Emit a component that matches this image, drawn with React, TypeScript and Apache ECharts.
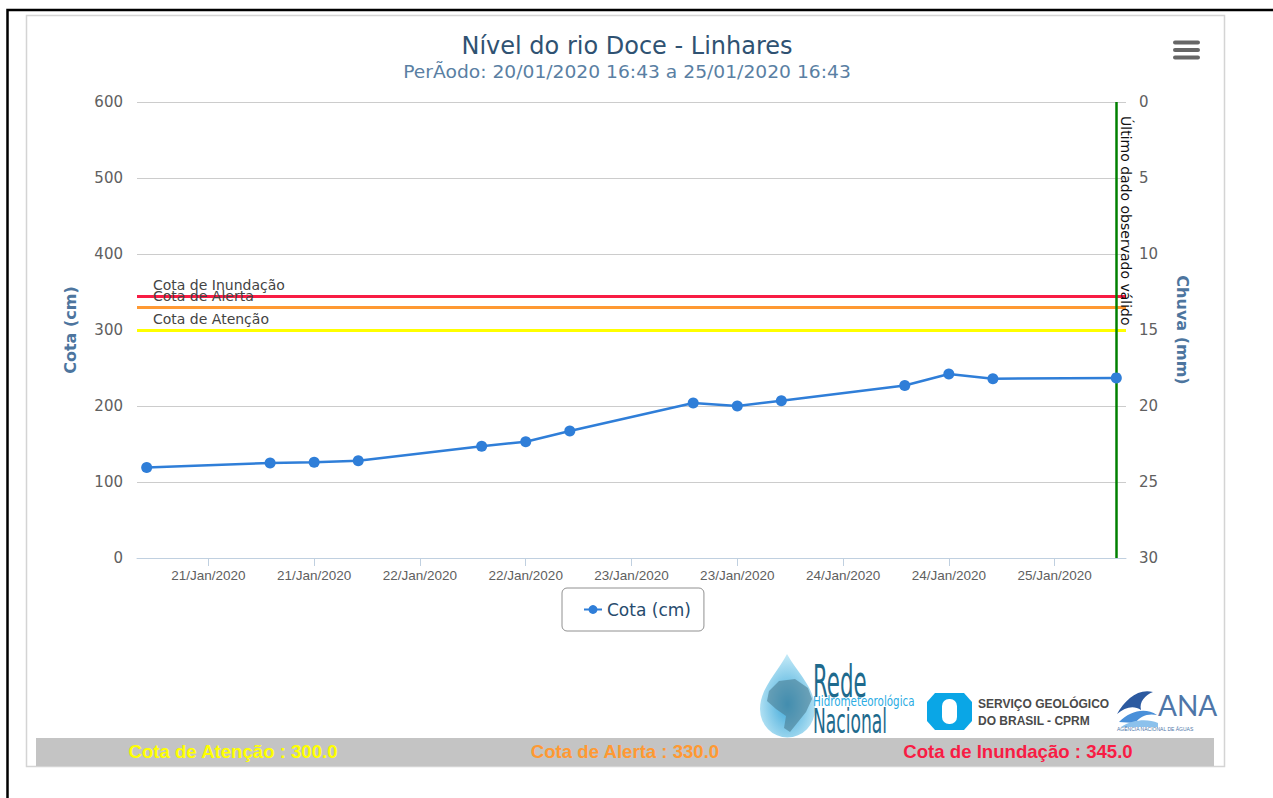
import React, { useEffect, useRef } from "react";
import * as echarts from "echarts";

// ---------- DATA ----------
const readingTimes: number[] = [
  Date.UTC(2020, 0, 20, 17, 0),
  Date.UTC(2020, 0, 21, 7, 0),
  Date.UTC(2020, 0, 21, 12, 0),
  Date.UTC(2020, 0, 21, 17, 0),
  Date.UTC(2020, 0, 22, 7, 0),
  Date.UTC(2020, 0, 22, 12, 0),
  Date.UTC(2020, 0, 22, 17, 0),
  Date.UTC(2020, 0, 23, 7, 0),
  Date.UTC(2020, 0, 23, 12, 0),
  Date.UTC(2020, 0, 23, 17, 0),
  Date.UTC(2020, 0, 24, 7, 0),
  Date.UTC(2020, 0, 24, 12, 0),
  Date.UTC(2020, 0, 24, 17, 0),
  Date.UTC(2020, 0, 25, 7, 0),
];
const cotaValues: number[] = [119, 125, 126, 128, 147, 153, 167, 204, 200, 207, 227, 242, 236, 237];

const xTickTimes: number[] = [
  Date.UTC(2020, 0, 21, 0),
  Date.UTC(2020, 0, 21, 12),
  Date.UTC(2020, 0, 22, 0),
  Date.UTC(2020, 0, 22, 12),
  Date.UTC(2020, 0, 23, 0),
  Date.UTC(2020, 0, 23, 12),
  Date.UTC(2020, 0, 24, 0),
  Date.UTC(2020, 0, 24, 12),
  Date.UTC(2020, 0, 25, 0),
];
const xMin = Date.UTC(2020, 0, 20, 15, 54);
const xMax = Date.UTC(2020, 0, 25, 8, 6);

const thresholdNames: string[] = ["Cota de Atenção", "Cota de Alerta", "Cota de Inundação"];
const thresholdValues: number[] = [300, 330, 345];
const thresholdColors: string[] = ["#ffff00", "#ff9933", "#f81c44"];

const lastValidTime = readingTimes[readingTimes.length - 1];
const lastValidLabel = "Último dado observado válido";

const cotaAxis = { min: 0, max: 600, interval: 100 };
const chuvaAxis = { min: 0, max: 30, interval: 5 };

const titleText = "Nível do rio Doce - Linhares";
const subtitleText = "PerÃodo: 20/01/2020 16:43 a 25/01/2020 16:43";
const seriesName = "Cota (cm)";
const rightAxisName = "Chuva (mm)";

const monthNames = ["Jan", "Feb", "Mar", "Apr", "May", "Jun", "Jul", "Aug", "Sep", "Oct", "Nov", "Dec"];

// ---------- SHAPES ----------
echarts.graphic.registerShape(
  "rhnDrop",
  echarts.graphic.extendPath(
    "M787 654 C797 672 815 688 815 709 A27 28 0 1 1 760 709 C760 688 778 672 787 654 Z",
    {}
  )
);
echarts.graphic.registerShape(
  "anaWave1",
  echarts.graphic.extendPath(
    "M1117 714 C1125 700 1138 688 1153 692 C1145 695 1139 702 1141 710 C1134 705 1125 707 1117 714 Z",
    {}
  )
);
echarts.graphic.registerShape(
  "anaWave2",
  echarts.graphic.extendPath(
    "M1119 722 C1130 711 1145 707 1157 715 C1148 713 1140 716 1135 723 Z",
    {}
  )
);
echarts.graphic.registerShape(
  "anaWave3",
  echarts.graphic.extendPath("M1121 727 C1134 719 1148 719 1158 723 L1158 727 Z", {})
);

const pad = (n: number) => (n < 10 ? "0" + n : "" + n);
const fmtDate = (v: number) => {
  const d = new Date(v);
  return `${pad(d.getUTCDate())}/${monthNames[d.getUTCMonth()]}/${d.getUTCFullYear()}`;
};

const txt = (
  text: string,
  x: number,
  y: number,
  font: string,
  fill: string,
  align: string = "center",
  extra: any = {}
) => ({
  type: "text",
  x,
  y,
  silent: true,
  style: {
    text,
    x: 0,
    y: 0,
    font,
    fill,
    align,
    verticalAlign: "middle",
    textAlign: align,
    textVerticalAlign: "middle",
  },
  ...extra,
});

export default function App() {
  const ref = useRef<HTMLDivElement>(null);

  useEffect(() => {
    if (!ref.current) return;
    const chart = echarts.init(ref.current, null, { renderer: "svg" });

    const markData: any[] = thresholdValues.map((v, i) => ({
      yAxis: v,
      lineStyle: { color: thresholdColors[i], width: 3, type: "solid" },
      label: {
        show: true,
        position: "insideStartTop",
        formatter: thresholdNames[i],
        color: "#444",
        fontSize: 14,
        fontFamily: "DejaVu Sans",
        distance: [16, 4],
      },
    }));
    markData.push([
      {
        coord: [lastValidTime, cotaAxis.max],
        lineStyle: { color: "#008000", width: 2.5, type: "solid" },
        label: {
          show: true,
          position: "insideStartTop",
          formatter: lastValidLabel,
          color: "#111",
          fontSize: 14,
          fontFamily: "DejaVu Sans",
          distance: [14, 3],
        },
      },
      { coord: [lastValidTime, cotaAxis.min] },
    ]);

    const option: any = {
      animation: false,
      backgroundColor: "#ffffff",
      grid: {
        left: 137,
        right: 147,
        top: 102,
        bottom: 240,
        containLabel: false,
        outerBoundsMode: "none",
      },
      legend: {
        data: [seriesName],
        left: 562,
        top: 588,
        padding: [13, 13, 13, 21],
        itemWidth: 18,
        itemHeight: 11,
        borderColor: "#909090",
        borderWidth: 1,
        borderRadius: 5,
        textStyle: { color: "#274b6d", fontSize: 17, fontFamily: "DejaVu Sans" },
      },
      xAxis: {
        type: "value",
        min: xMin,
        max: xMax,
        axisLine: { show: true, lineStyle: { color: "#C0D0E0", width: 1 } },
        axisTick: {
          show: true,
          customValues: xTickTimes,
          length: 8,
          lineStyle: { color: "#C0D0E0" },
        },
        axisLabel: {
          customValues: xTickTimes,
          formatter: (v: number) => fmtDate(v),
          color: "#606060",
          fontSize: 13.5,
          fontFamily: "Liberation Sans",
          margin: 10,
        },
        splitLine: { show: false },
      },
      yAxis: [
        {
          type: "value",
          position: "left",
          min: cotaAxis.min,
          max: cotaAxis.max,
          interval: cotaAxis.interval,
          name: seriesName,
          nameLocation: "middle",
          nameGap: 59,
          nameRotate: 90,
          nameTextStyle: { color: "#4d759e", fontWeight: "bold", fontSize: 16, fontFamily: "DejaVu Sans" },
          axisLine: { show: false },
          axisTick: { show: false },
          axisLabel: { color: "#606060", fontSize: 15, fontFamily: "DejaVu Sans", margin: 14 },
          splitLine: { show: true, lineStyle: { color: "#cccccc", width: 1 } },
        },
        {
          type: "value",
          position: "right",
          inverse: true,
          min: chuvaAxis.min,
          max: chuvaAxis.max,
          interval: chuvaAxis.interval,
          name: rightAxisName,
          nameLocation: "middle",
          nameGap: 48,
          nameRotate: -90,
          nameTextStyle: { color: "#4d759e", fontWeight: "bold", fontSize: 16, fontFamily: "DejaVu Sans" },
          axisLine: { show: false },
          axisTick: { show: false },
          axisLabel: { color: "#606060", fontSize: 15, fontFamily: "DejaVu Sans", margin: 13 },
          splitLine: { show: false },
        },
      ],
      series: [
        {
          type: "line",
          name: seriesName,
          yAxisIndex: 0,
          data: readingTimes.map((t, i) => [t, cotaValues[i]]),
          symbol: "circle",
          symbolSize: 11,
          showSymbol: true,
          itemStyle: { color: "#2f7ed8" },
          lineStyle: { color: "#2f7ed8", width: 2.5 },
          z: 5,
          markLine: {
            silent: true,
            animation: false,
            symbol: ["none", "none"],
            data: markData,
          },
        },
      ],
      graphic: [
        // outer frames
        {
          type: "rect",
          silent: true,
          z: -10,
          shape: { x: 7.5, y: 10, width: 1300, height: 900 },
          style: { fill: "none", stroke: "#000", lineWidth: 2.5 },
        },
        {
          type: "rect",
          silent: true,
          z: -10,
          shape: { x: 26.5, y: 15.5, width: 1198, height: 751 },
          style: { fill: "none", stroke: "#d4d4d4", lineWidth: 1.5 },
        },
        // titles
        txt(titleText, 627, 46, '24px "DejaVu Sans"', "#2f5272"),
        txt(subtitleText, 627, 72, '17px "DejaVu Sans"', "#5a7fa3", "center", { scaleX: 1.1 }),
        // menu icon
        { type: "rect", silent: true, shape: { x: 1173, y: 40.5, width: 27, height: 4, r: 2 }, style: { fill: "#666" } },
        { type: "rect", silent: true, shape: { x: 1173, y: 48, width: 27, height: 4, r: 2 }, style: { fill: "#666" } },
        { type: "rect", silent: true, shape: { x: 1173, y: 55.5, width: 27, height: 4, r: 2 }, style: { fill: "#666" } },
        // Rede Hidrometeorologica logo
        {
          type: "rhnDrop",
          silent: true,
          x: 0,
          y: 0,
          style: {
            fill: new echarts.graphic.RadialGradient(0.5, 0.6, 0.6, [
              { offset: 0, color: "#3aa6d8" },
              { offset: 1, color: "#c6ebf8" },
            ]),
          },
        },
        {
          type: "polygon",
          silent: true,
          shape: {
            points: [
              [769, 691], [779, 681], [795, 679], [808, 688], [812, 699], [806, 712],
              [798, 722], [790, 732], [784, 728], [786, 716], [776, 709], [767, 701],
            ],
          },
          style: { fill: "#4a7d93", opacity: 0.6 },
        },
        txt("Rede", 813, 681, '44px "DejaVu Sans Condensed"', "#1e6a8d", "left", { scaleX: 0.54 }),
        txt("Hidrometeorológica", 813, 701, '14px "DejaVu Sans Condensed"', "#2bace3", "left", { scaleX: 0.82 }),
        txt("Nacional", 813, 721, '34px "DejaVu Sans Condensed"', "#1e6a8d", "left", { scaleX: 0.56 }),
        // CPRM logo
        {
          type: "polygon",
          silent: true,
          shape: {
            points: [[935, 693], [964, 693], [972, 702], [972, 721], [964, 730], [935, 730], [927, 721], [927, 702]],
          },
          style: { fill: "#0aa6e6" },
        },
        { type: "rect", silent: true, shape: { x: 942, y: 699, width: 15, height: 25, r: 7 }, style: { fill: "#fff" } },
        txt("SERVIÇO GEOLÓGICO", 978, 704, 'bold 12px "Liberation Sans"', "#4a4a4a", "left"),
        txt("DO BRASIL - CPRM", 978, 721, 'bold 12px "Liberation Sans"', "#4a4a4a", "left"),
        // ANA logo
        { type: "anaWave1", silent: true, x: 0, y: 0, style: { fill: "#2c5aa0" } },
        { type: "anaWave2", silent: true, x: 0, y: 0, style: { fill: "#4a90d9" } },
        { type: "anaWave3", silent: true, x: 0, y: 0, style: { fill: "#8cc1ec" } },
        txt("ANA", 1158, 705, '28px "Lato"', "#4e76a8", "left"),
        txt("AGÊNCIA NACIONAL DE ÁGUAS", 1117, 729, '5px "Liberation Sans"', "#4e76a8", "left"),
        // bottom bar
        {
          type: "rect",
          silent: true,
          shape: { x: 36, y: 738, width: 1178, height: 28 },
          style: { fill: "#c4c4c4" },
        },
        txt(`${thresholdNames[0]} : ${thresholdValues[0].toFixed(1)}`, 233, 751, 'bold 18.6px "Liberation Sans"', thresholdColors[0]),
        txt(`${thresholdNames[1]} : ${thresholdValues[1].toFixed(1)}`, 625, 751, 'bold 18.6px "Liberation Sans"', thresholdColors[1]),
        txt(`${thresholdNames[2]} : ${thresholdValues[2].toFixed(1)}`, 1018, 751, 'bold 18.6px "Liberation Sans"', thresholdColors[2]),
      ],
    };

    chart.setOption(option);
    return () => chart.dispose();
  }, []);

  return (
    <div
      ref={ref}
      style={{ position: "fixed", left: 0, top: 0, width: 1273, height: 798, background: "#fff" }}
    />
  );
}
